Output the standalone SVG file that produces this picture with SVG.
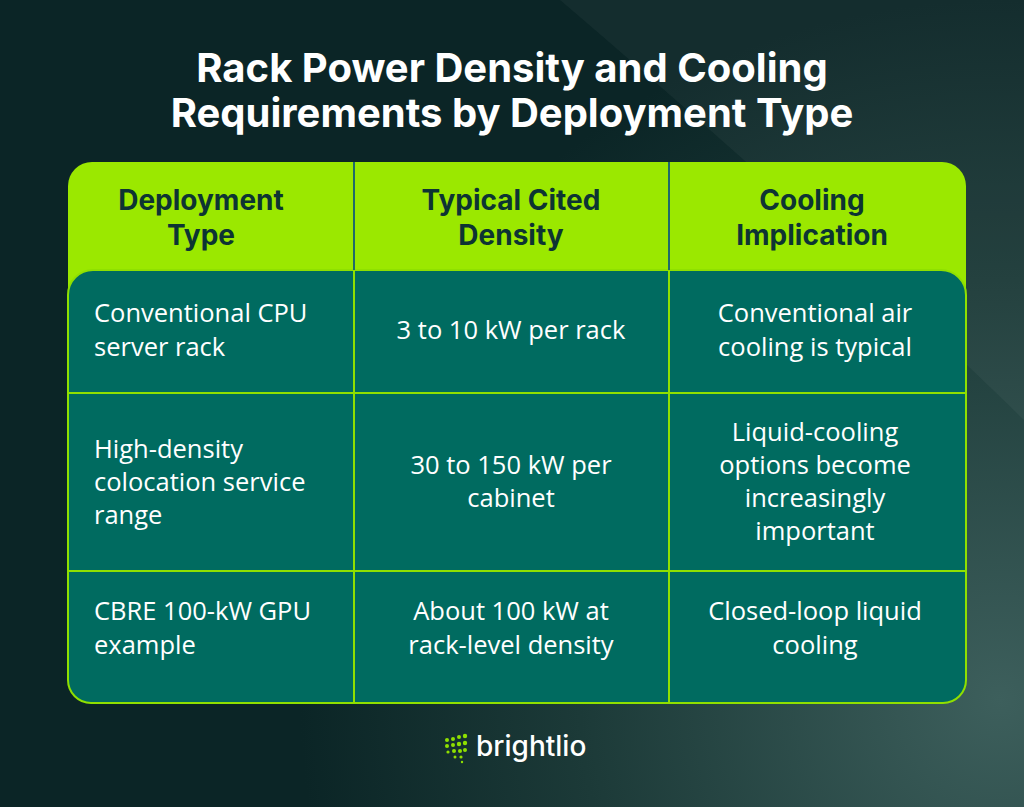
<svg xmlns="http://www.w3.org/2000/svg" width="1024" height="807" viewBox="0 0 1024 807">
<defs>
<radialGradient id="bg" cx="1000" cy="700" r="700" gradientUnits="userSpaceOnUse">
<stop offset="0" stop-color="#3d5f5c"/><stop offset="0.6" stop-color="#1c3a38"/><stop offset="1" stop-color="#0b2526"/>
</radialGradient>
<style>
.t{font-family:Inter,"Open Sans",sans-serif;font-weight:700;fill:#fff;font-size:40px;text-anchor:middle}
.h{font-family:Inter,"Open Sans",sans-serif;font-weight:700;fill:#0d3433;font-size:28px;text-anchor:middle}
.c{font-family:"Open Sans",Inter,sans-serif;fill:#fff;font-size:25.5px}
.m{text-anchor:middle}
.g{stroke:#8fe000;stroke-width:2;fill:none}
.d{fill:#8fe000}
</style>
</defs>
<rect width="1024" height="807" fill="url(#bg)"/>
<path d="M560 0 H1024 V420 C860 260 700 120 560 0 Z" fill="#fff" opacity="0.04"/>
<text class="t" x="512" y="82">Rack Power Density and Cooling</text>
<text class="t" x="512" y="127">Requirements by Deployment Type</text>
<g id="table">
<rect x="68" y="162" width="898" height="541" rx="24" fill="#9be800"/>
<path d="M68 295 a25 25 0 0 1 25 -25 H941 a25 25 0 0 1 25 25 V680 a23 23 0 0 1 -23 23 H91 a23 23 0 0 1 -23 -23 Z" fill="#006b60" stroke="#8fe000" stroke-width="2"/>
<line x1="354" y1="162" x2="354" y2="270" stroke="#1f6a6a" stroke-width="2"/>
<line x1="669" y1="162" x2="669" y2="270" stroke="#1f6a6a" stroke-width="2"/>
</g>
<g id="connectors">
<line class="g" x1="354" y1="270" x2="354" y2="703"/>
<line class="g" x1="669" y1="270" x2="669" y2="703"/>
<line class="g" x1="68" y1="393" x2="966" y2="393"/>
<line class="g" x1="68" y1="571" x2="966" y2="571"/>
</g>
<g id="header">
<text class="h" x="201" y="210">Deployment</text><text class="h" x="201" y="245">Type</text>
<text class="h" x="511" y="210">Typical Cited</text><text class="h" x="511" y="245">Density</text>
<text class="h" x="812" y="210">Cooling</text><text class="h" x="812" y="245">Implication</text>
</g>
<g id="row1">
<text class="c" x="94" y="322">Conventional CPU</text><text class="c" x="94" y="356">server rack</text>
<text class="c m" x="511" y="339">3 to 10 kW per rack</text>
<text class="c m" x="815" y="322">Conventional air</text><text class="c m" x="815" y="356">cooling is typical</text>
</g>
<g id="row2">
<text class="c" x="94" y="458">High-density</text><text class="c" x="94" y="491">colocation service</text><text class="c" x="94" y="524">range</text>
<text class="c m" x="511" y="474">30 to 150 kW per</text><text class="c m" x="511" y="507">cabinet</text>
<text class="c m" x="815" y="441">Liquid-cooling</text><text class="c m" x="815" y="474">options become</text><text class="c m" x="815" y="507">increasingly</text><text class="c m" x="815" y="540">important</text>
</g>
<g id="row3">
<text class="c" x="94" y="620">CBRE 100-kW GPU</text><text class="c" x="94" y="654">example</text>
<text class="c m" x="511" y="620">About 100 kW at</text><text class="c m" x="511" y="654">rack-level density</text>
<text class="c m" x="815" y="620">Closed-loop liquid</text><text class="c m" x="815" y="654">cooling</text>
</g>
<g id="logo">
<circle class="d" cx="447" cy="740" r="2"/><circle class="d" cx="453" cy="739" r="2"/><circle class="d" cx="459" cy="737" r="2"/><circle class="d" cx="465" cy="736" r="2.2"/>
<circle class="d" cx="447" cy="746" r="2"/><circle class="d" cx="453" cy="745" r="2"/><circle class="d" cx="459" cy="744" r="2.2"/><circle class="d" cx="465" cy="743" r="2.2"/>
<circle class="d" cx="448" cy="752" r="1.6"/><circle class="d" cx="454" cy="751" r="2"/><circle class="d" cx="460" cy="751" r="2"/><circle class="d" cx="465" cy="750" r="2"/>
<circle class="d" cx="455" cy="757" r="1.5"/><circle class="d" cx="461" cy="757" r="1.6"/>
<circle class="d" cx="462" cy="762" r="1.2"/>
<text x="476" y="756" font-family="Inter,'Open Sans',sans-serif" font-size="28" font-weight="500" fill="#fff">brightlio</text>
</g>
</svg>
